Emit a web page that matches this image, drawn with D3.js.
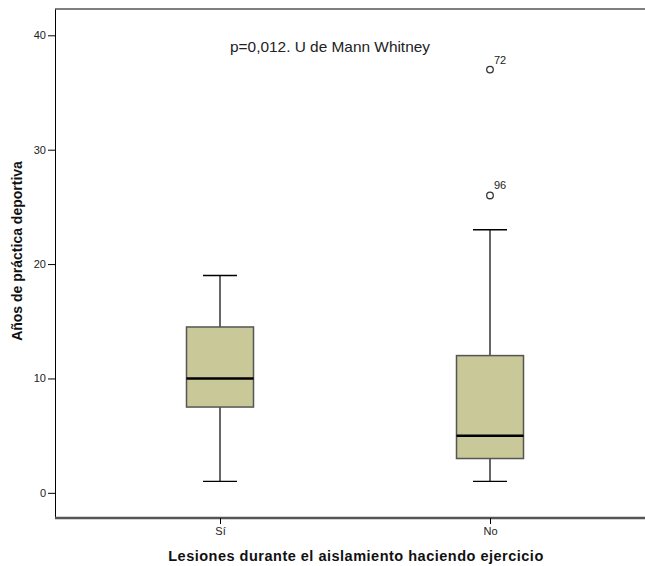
<!DOCTYPE html>
<html>
<head>
<meta charset="utf-8">
<script src="https://cdn.jsdelivr.net/npm/d3@7"></script>
<style>
  body { margin: 0; background: #fff; }
  text { font-family: "Liberation Sans", Arial, sans-serif; }
</style>
</head>
<body>
<svg id="chart" width="645" height="566"></svg>
<script>
// datos
const categories = ["Sí", "No"];
const whiskerLow = [1, 1];
const q1 = [7.5, 3];
const medians = [10, 5];
const q3 = [14.5, 12];
const whiskerHigh = [19, 23];
const outlierGroup = ["No", "No"];
const outlierValues = [37, 26];
const outlierLabels = ["72", "96"];
const yTicks = [0, 10, 20, 30, 40];

const svg = d3.select("#chart");
const plotLeft = 55, plotRight = 646, plotTop = 9, plotBottom = 518;

const y = d3.scaleLinear().domain([-2.2, 42.3]).range([plotBottom, plotTop]);
const x = d3.scalePoint().domain(categories).range([plotLeft + 165, plotRight - 156]);

const boxW = 67, capW = 34;

// marco superior
svg.append("line").attr("x1", plotLeft).attr("x2", plotRight).attr("y1", plotTop).attr("y2", plotTop)
  .attr("stroke", "#555").attr("stroke-width", 1.5);

// eje y
const yAxis = svg.append("g").attr("transform", `translate(${plotLeft},0)`)
  .call(d3.axisLeft(y).tickValues(yTicks).tickSize(7).tickSizeOuter(0).tickPadding(2));
yAxis.select(".domain").attr("stroke", "#000");
yAxis.selectAll("text").attr("font-size", 11).attr("fill", "#222")
  .style("font-family", "Liberation Sans, Arial, sans-serif");

// eje x
const xAxis = svg.append("g").attr("transform", `translate(0,${plotBottom})`)
  .call(d3.axisBottom(x).tickSize(6).tickSizeOuter(0).tickPadding(3));
xAxis.select(".domain").attr("d", `M${plotLeft},0H${plotRight}`).attr("stroke", "#555").attr("stroke-width", 2.5);
xAxis.selectAll("text").attr("font-size", 11).attr("fill", "#222")
  .style("font-family", "Liberation Sans, Arial, sans-serif");

const data = categories.map((c, i) => ({
  cat: c, lo: whiskerLow[i], q1: q1[i], med: medians[i], q3: q3[i], hi: whiskerHigh[i]
}));

const g = svg.append("g");
const box = g.selectAll("g.box").data(data).enter().append("g").attr("class", "box");

// bigotes
box.append("line")
  .attr("x1", d => x(d.cat)).attr("x2", d => x(d.cat))
  .attr("y1", d => y(d.hi)).attr("y2", d => y(d.q3))
  .attr("stroke", "#000").attr("stroke-width", 1.2);
box.append("line")
  .attr("x1", d => x(d.cat)).attr("x2", d => x(d.cat))
  .attr("y1", d => y(d.q1)).attr("y2", d => y(d.lo))
  .attr("stroke", "#000").attr("stroke-width", 1.2);
box.append("line")
  .attr("x1", d => x(d.cat) - capW / 2).attr("x2", d => x(d.cat) + capW / 2)
  .attr("y1", d => y(d.hi)).attr("y2", d => y(d.hi))
  .attr("stroke", "#000").attr("stroke-width", 1.5);
box.append("line")
  .attr("x1", d => x(d.cat) - capW / 2).attr("x2", d => x(d.cat) + capW / 2)
  .attr("y1", d => y(d.lo)).attr("y2", d => y(d.lo))
  .attr("stroke", "#000").attr("stroke-width", 1.2);

// cajas
box.append("rect")
  .attr("x", d => x(d.cat) - boxW / 2).attr("width", boxW)
  .attr("y", d => y(d.q3)).attr("height", d => y(d.q1) - y(d.q3))
  .attr("fill", "#c9c898").attr("stroke", "#555").attr("stroke-width", 1.5);
box.append("line")
  .attr("x1", d => x(d.cat) - boxW / 2).attr("x2", d => x(d.cat) + boxW / 2)
  .attr("y1", d => y(d.med)).attr("y2", d => y(d.med))
  .attr("stroke", "#000").attr("stroke-width", 2.5);

// atípicos
const outliers = outlierValues.map((v, i) => ({ cat: outlierGroup[i], v: v, label: outlierLabels[i] }));
g.selectAll("circle.out").data(outliers).enter().append("circle")
  .attr("class", "out")
  .attr("cx", d => x(d.cat)).attr("cy", d => y(d.v)).attr("r", 3.3)
  .attr("fill", "none").attr("stroke", "#333").attr("stroke-width", 1.3);
g.selectAll("text.out").data(outliers).enter().append("text")
  .attr("class", "out")
  .attr("x", d => x(d.cat) + 4).attr("y", d => y(d.v) - 6)
  .attr("font-size", 11).attr("fill", "#222")
  .text(d => d.label);

// anotación
svg.append("text").attr("x", 330).attr("y", 52).attr("text-anchor", "middle")
  .attr("font-size", 15).attr("fill", "#222")
  .attr("textLength", 200).attr("lengthAdjust", "spacingAndGlyphs")
  .text("p=0,012. U de Mann Whitney");

// títulos de ejes
svg.append("text").attr("x", 356).attr("y", 561).attr("text-anchor", "middle")
  .attr("font-weight", "bold").attr("letter-spacing", 0.5)
  .attr("font-size", 14.5).attr("fill", "#111")
  .text("Lesiones durante el aislamiento haciendo ejercicio");
svg.append("text")
  .attr("transform", `translate(22,251) rotate(-90)`)
  .attr("text-anchor", "middle")
  .attr("font-size", 14).attr("font-weight", "bold").attr("fill", "#111")
  .text("Años de práctica deportiva");
</script>
</body>
</html>
